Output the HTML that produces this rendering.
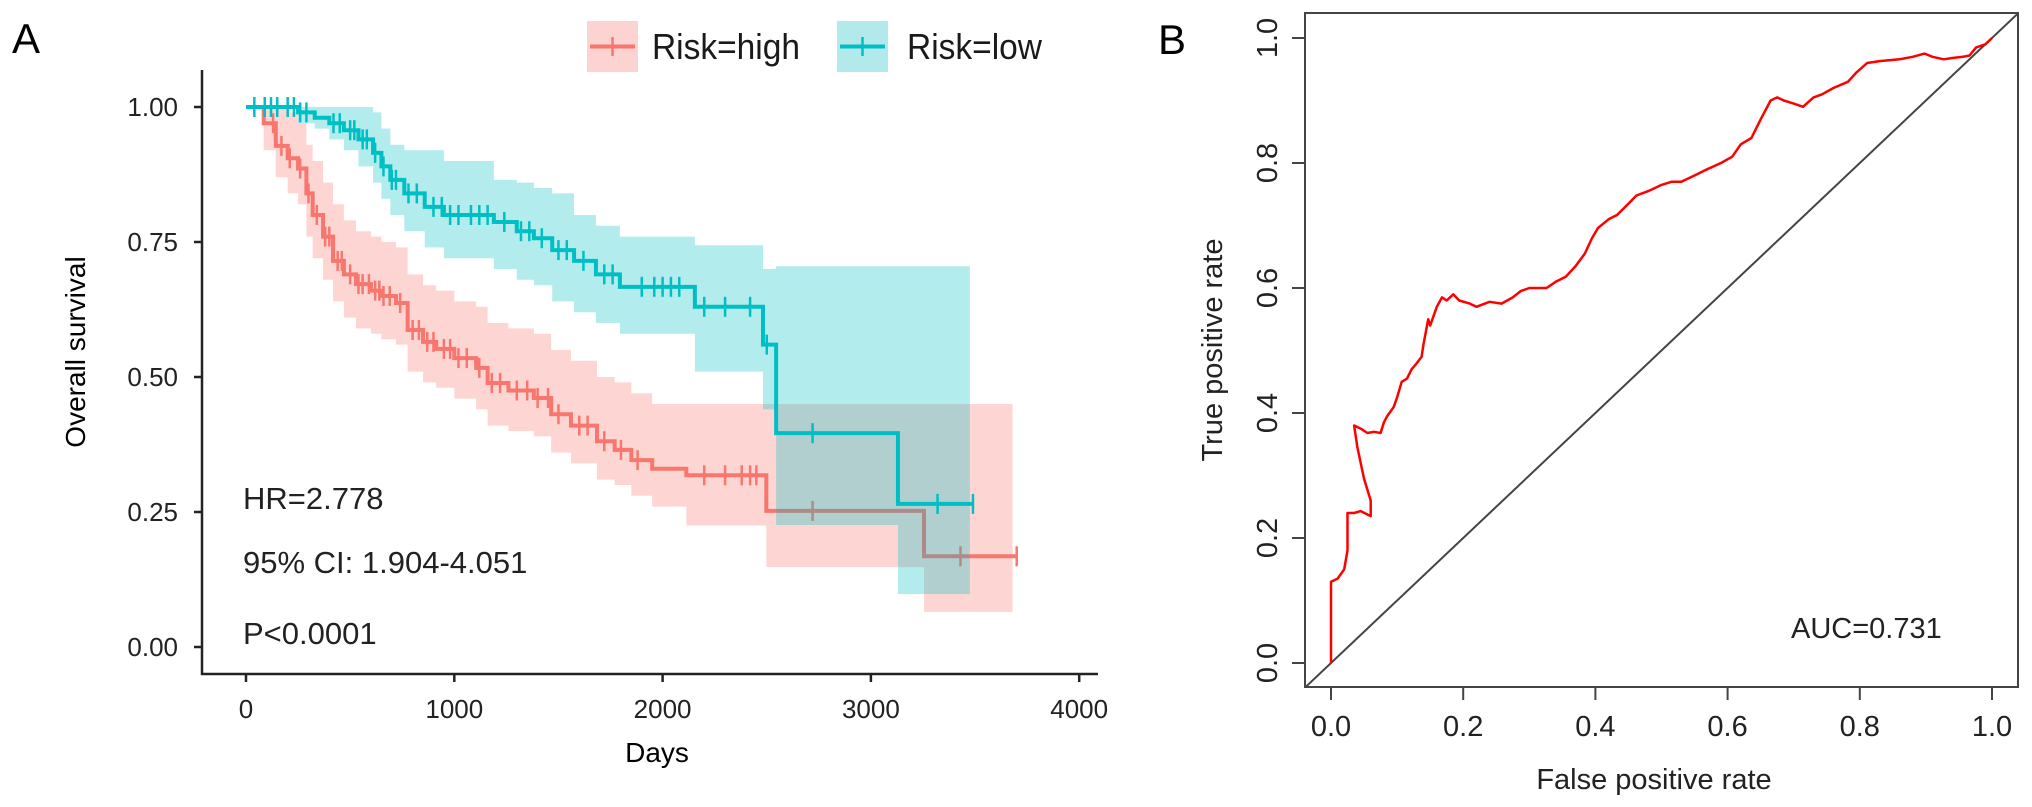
<!DOCTYPE html>
<html><head><meta charset="utf-8"><style>
html,body{margin:0;padding:0;background:#fff;}
svg{display:block;font-family:"Liberation Sans",Arial,sans-serif;}
</style></head><body>
<svg id="chart" width="2032" height="807" viewBox="0 0 2032 807" xmlns="http://www.w3.org/2000/svg">
<g id="panelA"></g>
<g id="panelB"></g>
</svg>
<script>
// ---- Panel A data ----
const xTicksA = [0, 1000, 2000, 3000, 4000];
const yTicksA = [0, 0.25, 0.5, 0.75, 1];
const yTickLabelsA = ["0.00", "0.25", "0.50", "0.75", "1.00"];
const highTimes = [0,85,143,200,250,290,320,370,418,470,528,600,650,720,776,850,913,1000,1105,1160,1260,1382,1465,1560,1685,1770,1850,1950,2114,2498,3255];
const highSurv = [1,0.97,0.928,0.905,0.886,0.84,0.80,0.76,0.715,0.69,0.672,0.66,0.65,0.637,0.587,0.565,0.552,0.535,0.517,0.489,0.475,0.461,0.431,0.41,0.381,0.365,0.346,0.33,0.318,0.252,0.168];
const highUpper = [1,1,1,0.99,0.97,0.93,0.9,0.86,0.82,0.79,0.77,0.76,0.75,0.74,0.69,0.67,0.66,0.64,0.63,0.6,0.59,0.58,0.55,0.53,0.5,0.49,0.47,0.45,0.45,0.45,0.45];
const highLower = [1,0.92,0.87,0.84,0.82,0.76,0.72,0.68,0.64,0.61,0.59,0.58,0.57,0.56,0.51,0.49,0.48,0.46,0.44,0.41,0.4,0.39,0.36,0.34,0.31,0.3,0.28,0.26,0.225,0.148,0.065];
const highEnd = 3700;
const highCensor = [130,170,210,260,300,340,380,400,440,460,500,540,560,590,620,640,660,690,740,800,830,870,900,950,980,1020,1060,1120,1180,1220,1300,1350,1400,1450,1500,1600,1640,1720,1800,1880,2200,2300,2380,2420,2450,2720,3430,3700];
const lowTimes = [0,250,330,400,470,540,610,650,693,760,858,950,1190,1300,1382,1470,1575,1680,1795,2155,2482,2545,3130];
const lowSurv = [1,0.99,0.98,0.97,0.957,0.94,0.915,0.89,0.865,0.84,0.815,0.80,0.787,0.77,0.757,0.735,0.715,0.69,0.667,0.63,0.56,0.396,0.265];
const lowUpper = [1,1,1,1,1,1,0.99,0.96,0.93,0.92,0.92,0.9,0.865,0.86,0.85,0.84,0.80,0.78,0.76,0.744,0.70,0.705,0.705];
const lowLower = [1,0.97,0.96,0.94,0.92,0.89,0.86,0.83,0.80,0.77,0.74,0.72,0.70,0.68,0.67,0.64,0.62,0.60,0.58,0.51,0.44,0.226,0.098];
const lowEnd = 3490;
const lowCensor = [40,90,120,150,200,230,260,290,420,450,500,520,560,580,620,660,700,720,780,820,900,940,980,1020,1080,1120,1160,1240,1320,1360,1420,1500,1540,1620,1720,1760,1900,1960,2000,2040,2080,2200,2300,2420,2500,2720,3320,3490];

// ---- Panel B data ----
const xTicksB = [0, 0.2, 0.4, 0.6, 0.8, 1.0];
const yTicksB = [0, 0.2, 0.4, 0.6, 0.8, 1.0];
const rocFPR = [0,0,0.01,0.02,0.025,0.025,0.035,0.045,0.06,0.06,0.05,0.045,0.04,0.035,0.045,0.055,0.065,0.075,0.08,0.085,0.095,0.1,0.107,0.115,0.122,0.13,0.137,0.14,0.147,0.15,0.16,0.168,0.175,0.185,0.194,0.21,0.22,0.24,0.258,0.275,0.287,0.3,0.326,0.34,0.355,0.37,0.384,0.395,0.404,0.42,0.433,0.45,0.462,0.48,0.5,0.515,0.53,0.55,0.569,0.59,0.607,0.62,0.636,0.65,0.665,0.675,0.685,0.7,0.714,0.73,0.743,0.76,0.782,0.795,0.811,0.83,0.86,0.88,0.898,0.91,0.927,0.94,0.956,0.966,0.976,0.99,1];
const rocTPR = [0,0.13,0.135,0.15,0.18,0.24,0.24,0.243,0.235,0.26,0.295,0.32,0.345,0.38,0.375,0.368,0.37,0.368,0.385,0.395,0.41,0.425,0.45,0.455,0.47,0.48,0.49,0.51,0.55,0.54,0.57,0.585,0.58,0.59,0.58,0.575,0.57,0.578,0.575,0.585,0.595,0.6,0.60,0.61,0.618,0.635,0.655,0.68,0.696,0.71,0.717,0.735,0.748,0.755,0.765,0.77,0.77,0.78,0.79,0.8,0.81,0.83,0.84,0.87,0.90,0.905,0.90,0.895,0.89,0.905,0.91,0.92,0.93,0.945,0.96,0.963,0.966,0.97,0.975,0.97,0.966,0.968,0.97,0.972,0.985,0.99,1];

const NS = "http://www.w3.org/2000/svg";
function mk(parent, tag, attrs, text){
  const el = document.createElementNS(NS, tag);
  for (const k in attrs) el.setAttribute(k, attrs[k]);
  if (text !== undefined) el.textContent = text;
  parent.appendChild(el);
  return el;
}
const A = document.getElementById('panelA');
const B = document.getElementById('panelB');
const xA = d => 246 + d * 0.2083;
const yA = s => 647 - 540 * s;
const xB = f => 1331 + 661 * f;
const yB = t => 663 - 625 * t;

function stepPath(times, vals, end){
  let d = `M${xA(times[0])},${yA(vals[0])}`;
  for (let i = 1; i < times.length; i++){
    d += ` H${xA(times[i])} V${yA(vals[i])}`;
  }
  d += ` H${xA(end)}`;
  return d;
}
function ribbonPath(times, up, lo, end){
  let d = `M${xA(times[0])},${yA(up[0])}`;
  for (let i = 1; i < times.length; i++) d += ` H${xA(times[i])} V${yA(up[i])}`;
  d += ` H${xA(end)} V${yA(lo[lo.length-1])}`;
  for (let i = times.length - 1; i >= 1; i--) d += ` H${xA(times[i])} V${yA(lo[i-1])}`;
  d += ` H${xA(times[0])} Z`;
  return d;
}
function survAt(times, vals, t){
  let v = vals[0];
  for (let i = 0; i < times.length; i++) if (times[i] <= t) v = vals[i];
  return v;
}

// legend
const lg = mk(A, 'g', {});


const legendItems = [
  {label: 'Risk=high', col: '#F8766D', fill: '#FCD3D0', bx: 587, tx: 652},
  {label: 'Risk=low', col: '#00BFC4', fill: '#B2EAEB', bx: 837, tx: 907}
];
legendItems.forEach((it, i) => {
  const g = mk(lg, 'g', {});
  
  
  mk(g, 'rect', {x: it.bx, y: 21, width: 51, height: 51, fill: it.fill});
  mk(g, 'line', {x1: it.bx + 3, x2: it.bx + 48, y1: 46.5, y2: 46.5, stroke: it.col, 'stroke-width': 4});
  mk(g, 'line', {x1: it.bx + 25.5, x2: it.bx + 25.5, y1: 37, y2: 56, stroke: it.col, 'stroke-width': 2.5});
  mk(g, 'text', {x: it.tx, y: 59, 'font-size': 36, fill: '#1a1a1a', textLength: it.label === 'Risk=high' ? 148 : 135, lengthAdjust: 'spacingAndGlyphs'}, it.label);
});

// panel label
const la = mk(A, 'text', {x: 12, y: 53, 'font-size': 42, fill: '#000'}, 'A');



// ribbons and lines
const series = [
  {t: highTimes, s: highSurv, u: highUpper, l: highLower, end: highEnd, ribEnd: 3680, c: '#F8766D', f: '#F8766D', cens: highCensor, name: 'high'},
  {t: lowTimes, s: lowSurv, u: lowUpper, l: lowLower, end: lowEnd, ribEnd: 3475, c: '#00BFC4', f: '#00BFC4', cens: lowCensor, name: 'low'}
];
series.forEach(sr => {
  const rib = mk(A, 'path', {d: ribbonPath(sr.t, sr.u, sr.l, sr.ribEnd), fill: sr.f, 'fill-opacity': 0.3, stroke: 'none'});
  
  
  const ln = mk(A, 'path', {d: stepPath(sr.t, sr.s, sr.end), fill: 'none', stroke: sr.c, 'stroke-width': 4});
  
  
  const cg = mk(A, 'g', {stroke: sr.c, 'stroke-width': 2.5});
  
  
  sr.cens.forEach(t => {
    const v = survAt(sr.t, sr.s, t);
    mk(cg, 'line', {x1: xA(t), x2: xA(t), y1: yA(v) - 10, y2: yA(v) + 10});
  });
});

// axes A
const axA = mk(A, 'g', {stroke: '#222', 'stroke-width': 2.5, fill: 'none'});


mk(axA, 'line', {x1: 202, x2: 202, y1: 70, y2: 675});
mk(axA, 'line', {x1: 201, x2: 1098, y1: 674, y2: 674});
yTicksA.forEach((v, i) => {
  mk(axA, 'line', {x1: 194, x2: 202, y1: yA(v), y2: yA(v)});
  const t = mk(A, 'text', {x: 178, y: yA(v) + 9, 'font-size': 26, 'text-anchor': 'end', fill: '#222'}, yTickLabelsA[i]);
  
  
});
xTicksA.forEach(v => {
  mk(axA, 'line', {x1: xA(v), x2: xA(v), y1: 674, y2: 682});
  const t = mk(A, 'text', {x: xA(v), y: 718, 'font-size': 26, 'text-anchor': 'middle', fill: '#222'}, String(v));
  
  
});
const xta = mk(A, 'text', {x: 657, y: 762, 'font-size': 28, 'text-anchor': 'middle', fill: '#000'}, 'Days');


const yta = mk(A, 'text', {x: 0, y: 0, 'font-size': 28, 'text-anchor': 'middle', fill: '#000', transform: 'translate(85,352) rotate(-90)'}, 'Overall survival');


[['HR=2.778', 509, 'hazard-ratio-label'], ['95% CI: 1.904-4.051', 573, 'ci-label'], ['P<0.0001', 644, 'p-value-label']].forEach(r => {
  const t = mk(A, 'text', {x: 243, y: r[1], 'font-size': 31, fill: '#222'}, r[0]);
  
  
});

// ---- Panel B ----
const lb = mk(B, 'text', {x: 1158, y: 54, 'font-size': 42, fill: '#000'}, 'B');


mk(B, 'defs', {}).innerHTML = '<clipPath id="boxclip"><rect x="1305" y="13" width="713" height="674"/></clipPath>';
const box = mk(B, 'rect', {x: 1305, y: 13, width: 713, height: 674, fill: 'none', stroke: '#444', 'stroke-width': 2});


const diag = mk(B, 'line', {x1: xB(-0.1), y1: yB(-0.1), x2: xB(1.1), y2: yB(1.1), stroke: '#444', 'stroke-width': 2, 'clip-path': 'url(#boxclip)'});


let rd = '';
rocFPR.forEach((f, i) => { rd += (i ? ' L' : 'M') + xB(f).toFixed(1) + ',' + yB(rocTPR[i]).toFixed(1); });
const roc = mk(B, 'path', {d: rd, fill: 'none', stroke: '#FF0000', 'stroke-width': 2.5, 'stroke-linejoin': 'round'});


const axB = mk(B, 'g', {stroke: '#444', 'stroke-width': 2});


xTicksB.forEach(v => {
  mk(axB, 'line', {x1: xB(v), x2: xB(v), y1: 687, y2: 700});
  const t = mk(B, 'text', {x: xB(v), y: 736, 'font-size': 29, 'text-anchor': 'middle', fill: '#222'}, v.toFixed(1));
  
  
});
yTicksB.forEach(v => {
  mk(axB, 'line', {x1: 1292, x2: 1305, y1: yB(v), y2: yB(v)});
  const t = mk(B, 'text', {x: 0, y: 0, 'font-size': 29, 'text-anchor': 'middle', fill: '#222', transform: `translate(1277,${yB(v)}) rotate(-90)`}, v.toFixed(1));
  
  
});
const xtb = mk(B, 'text', {x: 1654, y: 789, 'font-size': 29, 'text-anchor': 'middle', fill: '#222'}, 'False positive rate');


const ytb = mk(B, 'text', {x: 0, y: 0, 'font-size': 29, 'text-anchor': 'middle', fill: '#222', transform: 'translate(1222,350) rotate(-90)'}, 'True positive rate');


const auc = mk(B, 'text', {x: 1791, y: 638, 'font-size': 29, fill: '#222'}, 'AUC=0.731');


</script>
</body></html>
